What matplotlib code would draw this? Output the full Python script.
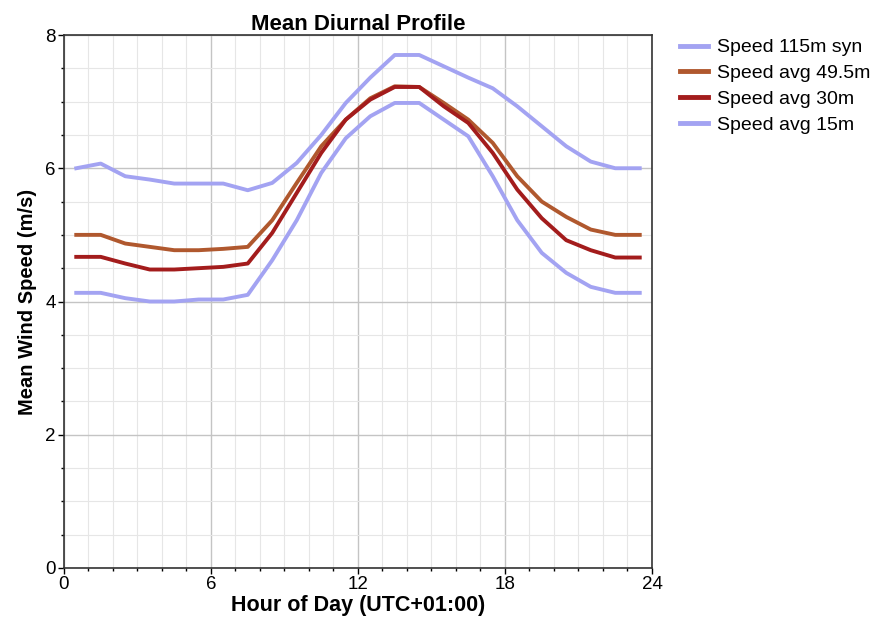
import matplotlib
matplotlib.use("Agg")
import matplotlib.pyplot as plt
from matplotlib.ticker import MultipleLocator

plt.rcParams['font.family'] = ['Liberation Sans', 'DejaVu Sans']

hours = [h + 0.5 for h in range(24)]

speed_115m_syn = [6.00, 6.07, 5.88, 5.83, 5.77, 5.77, 5.77, 5.67, 5.78, 6.08, 6.50, 6.98,
                  7.36, 7.70, 7.70, 7.53, 7.36, 7.20, 6.93, 6.63, 6.33, 6.10, 6.00, 6.00]
speed_avg_49_5m = [5.00, 5.00, 4.87, 4.82, 4.77, 4.77, 4.79, 4.82, 5.22, 5.78, 6.33, 6.73,
                   7.05, 7.23, 7.22, 6.98, 6.73, 6.38, 5.88, 5.50, 5.27, 5.08, 5.00, 5.00]
speed_avg_30m = [4.67, 4.67, 4.57, 4.48, 4.48, 4.50, 4.52, 4.57, 5.03, 5.63, 6.23, 6.73,
                 7.03, 7.22, 7.22, 6.93, 6.68, 6.23, 5.68, 5.25, 4.92, 4.77, 4.66, 4.66]
speed_avg_15m = [4.13, 4.13, 4.05, 4.00, 4.00, 4.03, 4.03, 4.10, 4.62, 5.22, 5.93, 6.45,
                 6.78, 6.98, 6.98, 6.73, 6.48, 5.88, 5.22, 4.73, 4.43, 4.22, 4.13, 4.13]

series = [
    ("Speed 115m syn", speed_115m_syn, "#a3a3f2"),
    ("Speed avg 49.5m", speed_avg_49_5m, "#b0582e"),
    ("Speed avg 30m", speed_avg_30m, "#a31c1c"),
    ("Speed avg 15m", speed_avg_15m, "#a3a3f2"),
]

fig = plt.figure(figsize=(8.87, 6.28), dpi=100)
ax = fig.add_axes([64/887, 1-568/628, (652-64)/887, (568-35)/628])

for name, vals, col in series:
    ax.plot(hours, vals, color=col, lw=2.8, label=name)

ax.set_xlim(0, 24)
ax.set_ylim(0, 8)
ax.xaxis.set_major_locator(MultipleLocator(6))
ax.xaxis.set_minor_locator(MultipleLocator(1))
ax.yaxis.set_major_locator(MultipleLocator(2))
ax.yaxis.set_minor_locator(MultipleLocator(0.5))
ax.grid(which='major', color='#c4c4c4', lw=1.0)
ax.grid(which='minor', color='#e6e6e6', lw=0.8)
ax.set_axisbelow(True)
ax.tick_params(which='major', direction='out', length=4, width=1, labelsize=13.5,
               color='black', pad=2)
ax.tick_params(which='minor', direction='out', length=2, width=1, color='black')
for s in ax.spines.values():
    s.set_color('#333333')
    s.set_linewidth(1.2)

ax.set_title("Mean Diurnal Profile", fontsize=16, fontweight='bold', pad=3)
ax.set_xlabel("Hour of Day (UTC+01:00)", fontsize=15.5, fontweight='bold', labelpad=1)
ax.set_ylabel("Mean Wind Speed (m/s)", fontsize=14.5, fontweight='bold', labelpad=6)

leg = ax.legend(loc='upper left', bbox_to_anchor=(672/887, 1-31/628), bbox_transform=fig.transFigure,
                frameon=False, fontsize=14, handlelength=1.45, handletextpad=0.45,
                labelspacing=0.42, borderaxespad=0)
for line in leg.get_lines():
    line.set_linewidth(3.5)

fig.savefig("out.png", dpi=100)
